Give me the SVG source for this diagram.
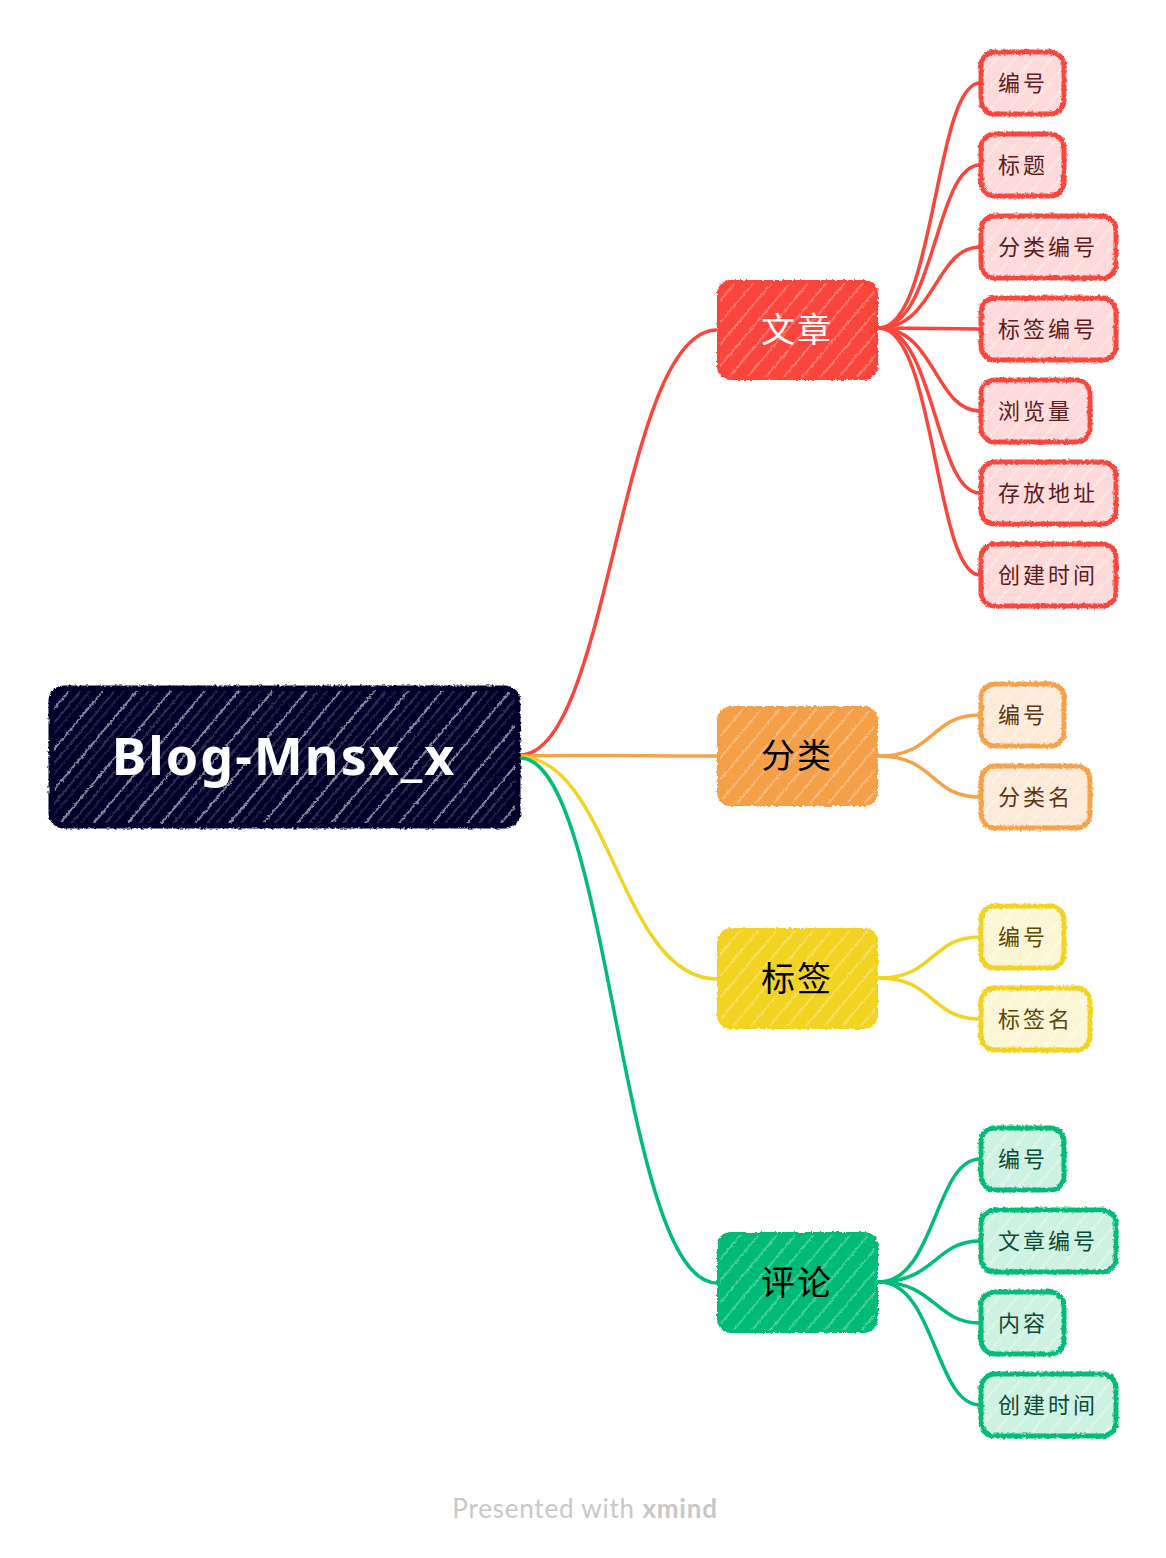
<svg xmlns="http://www.w3.org/2000/svg" width="1166" height="1558" viewBox="0 0 1166 1558">
<defs>
<filter id="rough" x="-5%" y="-5%" width="110%" height="110%">
<feTurbulence type="fractalNoise" baseFrequency="0.35" numOctaves="2" seed="3" result="n"/>
<feDisplacementMap in="SourceGraphic" in2="n" scale="3.5" xChannelSelector="R" yChannelSelector="G"/>
</filter>
<pattern id="hatchRoot" width="26" height="26" patternUnits="userSpaceOnUse" patternTransform="rotate(40)">
<line x1="3" y1="0" x2="3" y2="26" stroke="#ffffff" stroke-width="1.4" stroke-opacity="0.75"/>
<line x1="12" y1="0" x2="12" y2="26" stroke="#ffffff" stroke-width="1" stroke-opacity="0.35"/>
<line x1="19" y1="0" x2="19" y2="26" stroke="#ffffff" stroke-width="0.8" stroke-opacity="0.25"/>
</pattern>
<pattern id="hatchMain" width="14" height="14" patternUnits="userSpaceOnUse" patternTransform="rotate(40)">
<line x1="3" y1="0" x2="3" y2="14" stroke="#ffffff" stroke-width="1.2" stroke-opacity="0.45"/>
</pattern>
<pattern id="hatchSub" width="14" height="14" patternUnits="userSpaceOnUse" patternTransform="rotate(40)">
<line x1="3" y1="0" x2="3" y2="14" stroke="#ffffff" stroke-width="1.2" stroke-opacity="0.6"/>
</pattern>
</defs>
<style>
.conn{fill:none;stroke-width:3.5;stroke-linecap:round}
.red{stroke:#F9463C}
.org{stroke:#F5A24B}
.yel{stroke:#F2D323}
.grn{stroke:#00BC78}
.box{filter:url(#rough)}
.main-t{font-family:"Noto Sans CJK SC","Noto Sans",sans-serif;font-size:34px;text-anchor:middle;font-weight:400;letter-spacing:2px}
.sub-t{font-family:"Noto Sans CJK SC","Noto Sans",sans-serif;font-size:22px;letter-spacing:3px}
.sub{stroke-width:5}
.sr{fill:#FFDADA;stroke:#F9463C}
.so{fill:#FDEAD8;stroke:#F5A24B}
.sy{fill:#FDF6D4;stroke:#F2D323}
.sg{fill:#CDF1E3;stroke:#00BC78}
.tr{fill:#5E1C1C}
.to{fill:#5E3512}
.ty{fill:#5A4A08}
.tg{fill:#0B4B33}
</style>
<rect width="1166" height="1558" fill="#ffffff"/>
<g id="connectors">
<path class="conn red" d="M520,755 C610,755 620,330 717,330"/>
<path class="conn org" d="M520,756 C600,755 640,756 717,756"/>
<path class="conn yel" d="M520,757 C610,757 620,979 717,979"/>
<path class="conn grn" d="M520,758 C610,758 620,1283 717,1283"/>
<path class="conn red" d="M879,328 C935,328 935,83 980,83"/>
<path class="conn red" d="M879,328 C935,328 935,165 980,165"/>
<path class="conn red" d="M879,328 C935,328 935,247 980,247"/>
<path class="conn red" d="M879,328 C935,328 935,329 980,329"/>
<path class="conn red" d="M879,328 C935,328 935,411 980,411"/>
<path class="conn red" d="M879,328 C935,328 935,493 980,493"/>
<path class="conn red" d="M879,328 C935,328 935,575 980,575"/>
<path class="conn org" d="M879,756 C935,756 930,715 980,715"/>
<path class="conn org" d="M879,756 C935,756 930,797 980,797"/>
<path class="conn yel" d="M879,978 C935,978 930,937 980,937"/>
<path class="conn yel" d="M879,978 C935,978 930,1019 980,1019"/>
<path class="conn grn" d="M879,1282 C935,1282 935,1159 980,1159"/>
<path class="conn grn" d="M879,1282 C935,1282 935,1241 980,1241"/>
<path class="conn grn" d="M879,1282 C935,1282 935,1323 980,1323"/>
<path class="conn grn" d="M879,1282 C935,1282 935,1405 980,1405"/>
</g>
<g id="root">
<g class="box">
<rect x="50" y="687" width="469" height="140" rx="14" fill="#03032A" stroke="#03032A" stroke-width="3"/>
<rect x="54" y="691" width="461" height="132" rx="12" fill="url(#hatchRoot)"/>
</g>
<text x="284" y="775" font-family="'Noto Sans','DejaVu Sans',sans-serif" font-size="52" font-weight="bold" letter-spacing="2" fill="#ffffff" text-anchor="middle">Blog-Mnsx_x</text>
</g>
<g id="topic-wenzhang">
<g class="box">
<rect x="717" y="280" width="161" height="100" rx="14" fill="#F9443A"/>
<rect x="720" y="283" width="155" height="94" rx="12" fill="url(#hatchMain)"/>
</g>
<text class="main-t" x="797" y="342" fill="#ffffff">文章</text>
</g>
<g id="topic-fenlei">
<g class="box">
<rect x="717" y="706" width="161" height="100" rx="14" fill="#F5A04A"/>
<rect x="720" y="709" width="155" height="94" rx="12" fill="url(#hatchMain)"/>
</g>
<text class="main-t" x="797" y="768" fill="#000000">分类</text>
</g>
<g id="topic-biaoqian">
<g class="box">
<rect x="717" y="928" width="161" height="101" rx="14" fill="#F2D323"/>
<rect x="720" y="931" width="155" height="95" rx="12" fill="url(#hatchMain)"/>
</g>
<text class="main-t" x="797" y="991" fill="#000000">标签</text>
</g>
<g id="topic-pinglun">
<g class="box">
<rect x="717" y="1232" width="161" height="101" rx="14" fill="#00BB76"/>
<rect x="720" y="1235" width="155" height="95" rx="12" fill="url(#hatchMain)"/>
</g>
<text class="main-t" x="797" y="1295" fill="#000000">评论</text>
</g>
<g id="wz-bianhao">
<g class="box"><rect class="sub sr" x="981" y="52" width="83" height="62" rx="14"/><rect x="984" y="55" width="77" height="56" rx="12" fill="url(#hatchSub)"/></g>
<text class="sub-t tr" x="998" y="91">编号</text>
</g>
<g id="wz-biaoti">
<g class="box"><rect class="sub sr" x="981" y="134" width="83" height="62" rx="14"/><rect x="984" y="137" width="77" height="56" rx="12" fill="url(#hatchSub)"/></g>
<text class="sub-t tr" x="998" y="173">标题</text>
</g>
<g id="wz-fenleibianhao">
<g class="box"><rect class="sub sr" x="981" y="216" width="135" height="62" rx="14"/><rect x="984" y="219" width="129" height="56" rx="12" fill="url(#hatchSub)"/></g>
<text class="sub-t tr" x="998" y="255">分类编号</text>
</g>
<g id="wz-biaoqianbianhao">
<g class="box"><rect class="sub sr" x="981" y="298" width="135" height="62" rx="14"/><rect x="984" y="301" width="129" height="56" rx="12" fill="url(#hatchSub)"/></g>
<text class="sub-t tr" x="998" y="337">标签编号</text>
</g>
<g id="wz-liulanliang">
<g class="box"><rect class="sub sr" x="981" y="380" width="109" height="62" rx="14"/><rect x="984" y="383" width="103" height="56" rx="12" fill="url(#hatchSub)"/></g>
<text class="sub-t tr" x="998" y="419">浏览量</text>
</g>
<g id="wz-cunfangdizhi">
<g class="box"><rect class="sub sr" x="981" y="462" width="135" height="62" rx="14"/><rect x="984" y="465" width="129" height="56" rx="12" fill="url(#hatchSub)"/></g>
<text class="sub-t tr" x="998" y="501">存放地址</text>
</g>
<g id="wz-chuangjianshijian">
<g class="box"><rect class="sub sr" x="981" y="544" width="135" height="62" rx="14"/><rect x="984" y="547" width="129" height="56" rx="12" fill="url(#hatchSub)"/></g>
<text class="sub-t tr" x="998" y="583">创建时间</text>
</g>
<g id="fl-bianhao">
<g class="box"><rect class="sub so" x="981" y="684" width="83" height="62" rx="14"/><rect x="984" y="687" width="77" height="56" rx="12" fill="url(#hatchSub)"/></g>
<text class="sub-t to" x="998" y="723">编号</text>
</g>
<g id="fl-fenleiming">
<g class="box"><rect class="sub so" x="981" y="766" width="109" height="62" rx="14"/><rect x="984" y="769" width="103" height="56" rx="12" fill="url(#hatchSub)"/></g>
<text class="sub-t to" x="998" y="805">分类名</text>
</g>
<g id="bq-bianhao">
<g class="box"><rect class="sub sy" x="981" y="906" width="83" height="62" rx="14"/><rect x="984" y="909" width="77" height="56" rx="12" fill="url(#hatchSub)"/></g>
<text class="sub-t ty" x="998" y="945">编号</text>
</g>
<g id="bq-biaoqianming">
<g class="box"><rect class="sub sy" x="981" y="988" width="109" height="62" rx="14"/><rect x="984" y="991" width="103" height="56" rx="12" fill="url(#hatchSub)"/></g>
<text class="sub-t ty" x="998" y="1027">标签名</text>
</g>
<g id="pl-bianhao">
<g class="box"><rect class="sub sg" x="981" y="1128" width="83" height="62" rx="14"/><rect x="984" y="1131" width="77" height="56" rx="12" fill="url(#hatchSub)"/></g>
<text class="sub-t tg" x="998" y="1167">编号</text>
</g>
<g id="pl-wenzhangbianhao">
<g class="box"><rect class="sub sg" x="981" y="1210" width="135" height="62" rx="14"/><rect x="984" y="1213" width="129" height="56" rx="12" fill="url(#hatchSub)"/></g>
<text class="sub-t tg" x="998" y="1249">文章编号</text>
</g>
<g id="pl-neirong">
<g class="box"><rect class="sub sg" x="981" y="1292" width="83" height="62" rx="14"/><rect x="984" y="1295" width="77" height="56" rx="12" fill="url(#hatchSub)"/></g>
<text class="sub-t tg" x="998" y="1331">内容</text>
</g>
<g id="pl-chuangjianshijian">
<g class="box"><rect class="sub sg" x="981" y="1374" width="135" height="62" rx="14"/><rect x="984" y="1377" width="129" height="56" rx="12" fill="url(#hatchSub)"/></g>
<text class="sub-t tg" x="998" y="1413">创建时间</text>
</g>
<text x="585" y="1518" font-family="Lato,'Open Sans',sans-serif" font-size="26" letter-spacing="0.8" fill="#C8C8C8" text-anchor="middle">Presented with <tspan font-weight="bold">xmind</tspan></text>
</svg>
